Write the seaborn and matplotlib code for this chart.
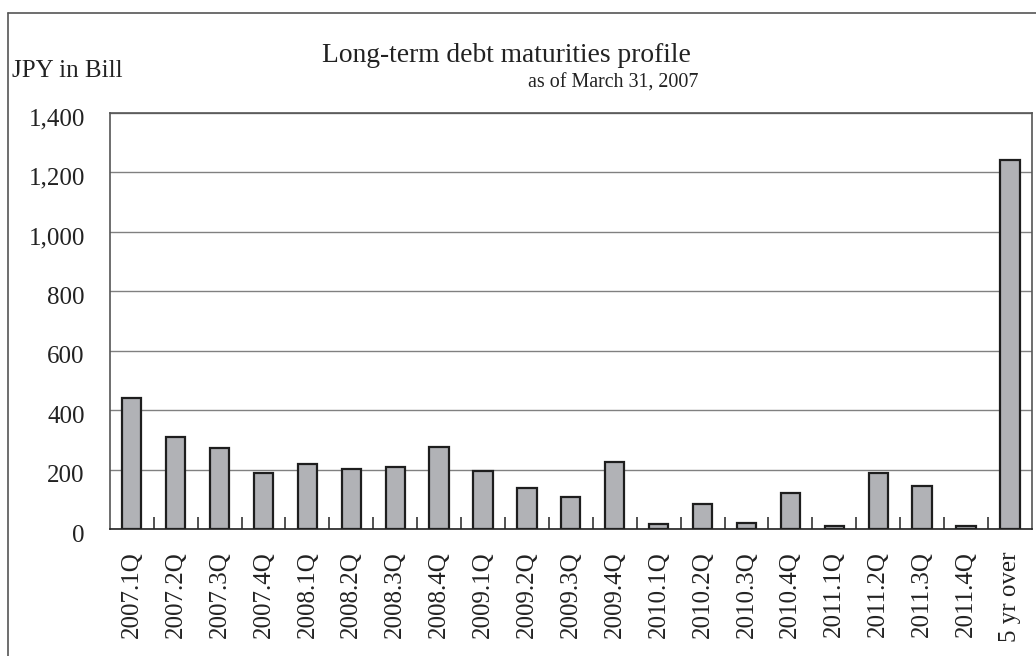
"""Long-term debt maturities profile, bar chart recreation."""

import matplotlib.pyplot as plt
import pandas as pd
import seaborn as sns
from matplotlib.lines import Line2D
from matplotlib.transforms import ScaledTranslation
from matplotlib.ticker import FixedLocator, FuncFormatter

periods = [
    "2007.1Q", "2007.2Q", "2007.3Q", "2007.4Q",
    "2008.1Q", "2008.2Q", "2008.3Q", "2008.4Q",
    "2009.1Q", "2009.2Q", "2009.3Q", "2009.4Q",
    "2010.1Q", "2010.2Q", "2010.3Q", "2010.4Q",
    "2011.1Q", "2011.2Q", "2011.3Q", "2011.4Q",
    "5 yr over",
]
maturities = [
    440, 312, 273, 190,
    220, 203, 209, 278,
    197, 139, 109, 227,
    17, 87, 23, 121,
    11, 190, 145, 11,
    1240,
]
y_ticks = [0, 200, 400, 600, 800, 1000, 1200, 1400]

df = pd.DataFrame({"period": periods, "amount": maturities})

sns.set_theme(style="white")
plt.rcParams["font.family"] = ["Liberation Serif", "DejaVu Serif"]

fig = plt.figure(figsize=(10.36, 6.56), dpi=100)
ax = fig.add_axes([0.106, 0.193, 0.890, 0.635])

sns.barplot(data=df, x="period", y="amount", ax=ax, color="#B1B2B6",
            saturation=1, width=0.44, edgecolor="#1e1e1e", linewidth=1.6)

ax.set_ylim(0, 1400)
ax.set_xlim(-0.5, len(periods) - 0.5)
ax.yaxis.set_major_locator(FixedLocator(y_ticks))
ax.yaxis.set_major_formatter(FuncFormatter(lambda v, _: f"{int(v):,}"))
ax.grid(axis="y", color="#808080", linewidth=1.0)
ax.set_axisbelow(True)
for side in ["left", "bottom", "top", "right"]:
    ax.spines[side].set_visible(True)
    ax.spines[side].set_color("#555555")
    ax.spines[side].set_linewidth(1.2)
ax.spines["bottom"].set_color("#222222")

ax.set_xlabel("")
ax.set_ylabel("")
ax.tick_params(axis="x", labelrotation=90, labelsize=18, length=0, pad=16, colors="#222222")
ax.tick_params(axis="y", labelsize=18, length=0, pad=18, colors="#222222")
ax.xaxis.set_minor_locator(FixedLocator([i + 0.5 for i in range(len(periods) - 1)]))
ax.tick_params(axis="x", which="minor", direction="in", length=9, width=1.1,
               color="#222222", bottom=True)

# y labels sit a little below their gridlines in the original
shift = ScaledTranslation(0, -0.04, fig.dpi_scale_trans)
for lbl in ax.get_yticklabels():
    lbl.set_transform(lbl.get_transform() + shift)

fig.text(0.489, 0.906, "Long-term debt maturities profile", ha="center", va="baseline",
         fontsize=19.8, color="#222222")
fig.text(0.674, 0.867, "as of March 31, 2007", ha="right", va="baseline",
         fontsize=14.4, color="#222222")
fig.text(0.012, 0.883, "JPY in Bill", ha="left", va="baseline", fontsize=18, color="#222222")

# frame lines along top and left edge of the picture
fig.add_artist(Line2D([0.008, 1.0], [0.980, 0.980], color="#555555", linewidth=1.2,
                      transform=fig.transFigure))
fig.add_artist(Line2D([0.008, 0.008], [0.0, 0.980], color="#555555", linewidth=1.2,
                      transform=fig.transFigure))

fig.savefig("out.png", dpi=100)
